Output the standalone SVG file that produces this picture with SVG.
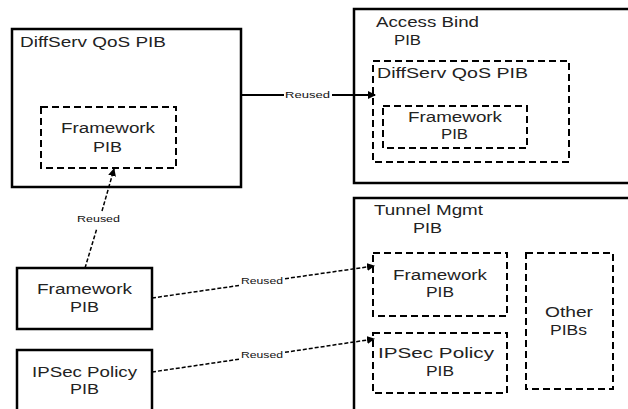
<svg xmlns="http://www.w3.org/2000/svg" width="628" height="409" viewBox="0 0 628 409">
  <defs>
    <marker id="arrow" markerUnits="userSpaceOnUse" markerWidth="8" markerHeight="8" refX="7" refY="4" orient="auto">
      <path d="M0,0 L8,4 L0,8 z" fill="#000"/>
    </marker>
    <style>
      .box { fill: #fff; stroke: #000; stroke-width: 2.5; }
      .dbox { fill: none; stroke: #000; stroke-width: 2; stroke-dasharray: 7 4; }
      .t { font-family: "Liberation Sans", Arial, sans-serif; font-size: 14px; fill: #222; }
      .lbl { font-family: "Liberation Sans", Arial, sans-serif; font-size: 9px; fill: #111; }
      .solid { fill: none; stroke: #000; stroke-width: 1.8; }
      .dash { fill: none; stroke: #000; stroke-width: 1.5; stroke-dasharray: 4 2; }
    </style>
  </defs>
  <rect width="628" height="409" fill="#fff"/>

  <!-- DiffServ QoS PIB with embedded Framework PIB -->
  <g id="diffserv-qos-pib">
    <rect class="box" x="12" y="29" width="229" height="158"/>
    <text class="t" x="20" y="47" textLength="146" lengthAdjust="spacingAndGlyphs">DiffServ QoS PIB</text>
  </g>
  <g id="diffserv-framework-pib">
    <rect class="dbox" x="41" y="107" width="135" height="61"/>
    <text class="t" x="61" y="133" textLength="94" lengthAdjust="spacingAndGlyphs">Framework</text>
    <text class="t" x="93" y="152" textLength="29" lengthAdjust="spacingAndGlyphs">PIB</text>
  </g>

  <!-- Access Bind PIB -->
  <g id="access-bind-pib">
    <rect class="box" x="354" y="9" width="290" height="174"/>
    <text class="t" x="376" y="27" textLength="103" lengthAdjust="spacingAndGlyphs">Access Bind</text>
    <text class="t" x="394" y="45" textLength="27" lengthAdjust="spacingAndGlyphs">PIB</text>
  </g>
  <g id="access-diffserv-pib">
    <rect class="dbox" x="373" y="61" width="196" height="101"/>
    <text class="t" x="377" y="78" textLength="151" lengthAdjust="spacingAndGlyphs">DiffServ QoS PIB</text>
  </g>
  <g id="access-framework-pib">
    <rect class="dbox" x="383" y="106" width="144" height="42"/>
    <text class="t" x="408" y="122" textLength="94" lengthAdjust="spacingAndGlyphs">Framework</text>
    <text class="t" x="441" y="139" textLength="27" lengthAdjust="spacingAndGlyphs">PIB</text>
  </g>

  <!-- Tunnel Mgmt PIB -->
  <g id="tunnel-mgmt-pib">
    <rect class="box" x="354" y="198" width="290" height="230"/>
    <text class="t" x="374" y="215" textLength="109" lengthAdjust="spacingAndGlyphs">Tunnel Mgmt</text>
    <text class="t" x="413" y="233" textLength="29" lengthAdjust="spacingAndGlyphs">PIB</text>
  </g>
  <g id="tunnel-framework-pib">
    <rect class="dbox" x="373" y="253" width="134" height="63"/>
    <text class="t" x="393" y="280" textLength="94" lengthAdjust="spacingAndGlyphs">Framework</text>
    <text class="t" x="426" y="297" textLength="28" lengthAdjust="spacingAndGlyphs">PIB</text>
  </g>
  <g id="tunnel-ipsec-pib">
    <rect class="dbox" x="373" y="333" width="134" height="60"/>
    <text class="t" x="378" y="358" textLength="116" lengthAdjust="spacingAndGlyphs">IPSec Policy</text>
    <text class="t" x="426" y="376" textLength="28" lengthAdjust="spacingAndGlyphs">PIB</text>
  </g>
  <g id="other-pibs">
    <rect class="dbox" x="526" y="253" width="87" height="136"/>
    <text class="t" x="545" y="317" textLength="48" lengthAdjust="spacingAndGlyphs">Other</text>
    <text class="t" x="550" y="335" textLength="37" lengthAdjust="spacingAndGlyphs">PIBs</text>
  </g>

  <!-- Standalone PIBs -->
  <g id="framework-pib">
    <rect class="box" x="17" y="268" width="135" height="61"/>
    <text class="t" x="37" y="294" textLength="95" lengthAdjust="spacingAndGlyphs">Framework</text>
    <text class="t" x="70" y="312" textLength="29" lengthAdjust="spacingAndGlyphs">PIB</text>
  </g>
  <g id="ipsec-policy-pib">
    <rect class="box" x="17" y="350" width="135" height="80"/>
    <text class="t" x="32" y="377" textLength="105" lengthAdjust="spacingAndGlyphs">IPSec Policy</text>
    <text class="t" x="70" y="394" textLength="29" lengthAdjust="spacingAndGlyphs">PIB</text>
  </g>

  <!-- Reuse connectors -->
  <g id="connectors">
    <path class="solid" d="M241,95 L284,95"/>
    <path class="solid" d="M332,95 L375,95" marker-end="url(#arrow)"/>
    <text class="lbl" x="285" y="98" textLength="45" lengthAdjust="spacingAndGlyphs">Reused</text>

    <path class="dash" d="M85,268 L97,228"/>
    <path class="dash" d="M102,211 L114,169" marker-end="url(#arrow)"/>
    <text class="lbl" x="77" y="222" textLength="43" lengthAdjust="spacingAndGlyphs">Reused</text>

    <path class="dash" d="M152,298 L239,285.5"/>
    <path class="dash" d="M285,278.7 L374,266" marker-end="url(#arrow)"/>
    <text class="lbl" x="241" y="284" textLength="42" lengthAdjust="spacingAndGlyphs">Reused</text>

    <path class="dash" d="M152,372 L239,359.2"/>
    <path class="dash" d="M285,352.3 L374,339" marker-end="url(#arrow)"/>
    <text class="lbl" x="241" y="358" textLength="42" lengthAdjust="spacingAndGlyphs">Reused</text>
  </g>
</svg>
